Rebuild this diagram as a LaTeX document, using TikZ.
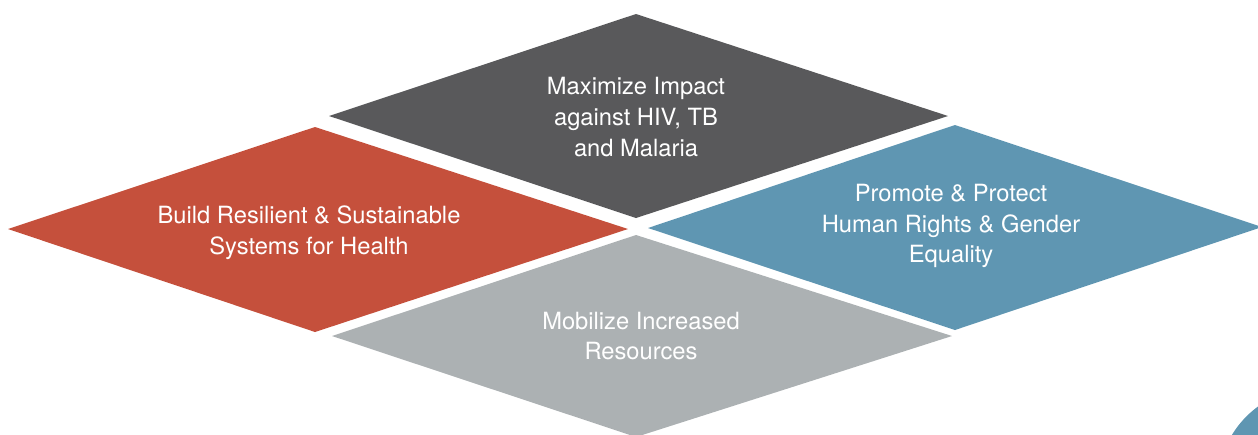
\documentclass[tikz,border=0pt]{standalone}
\usepackage{fontspec}
\setmainfont{TeX Gyre Heros}
\usetikzlibrary{positioning}
\definecolor{impactgray}{RGB}{89,89,91}
\definecolor{systemsred}{RGB}{197,80,60}
\definecolor{rightsblue}{RGB}{95,150,178}
\definecolor{resourcegray}{RGB}{172,177,179}
\tikzset{
	pillartext/.style={text=white, align=center, inner sep=0pt,
		font=\fontsize{13.5}{17.6}\selectfont}
}

\begin{document}
\begin{tikzpicture}[x=0.02cm,y=-0.02cm]
	\useasboundingbox (0,0) rectangle (1258,434);
	\clip (0,0) rectangle (1258,434);
%
	\fill[impactgray] (329,116) -- (636,14) -- (948,116) -- (636,218) -- cycle;
	\fill[systemsred] (8,229) -- (315,127) -- (628,229) -- (315,332) -- cycle;
	\fill[rightsblue] (648,228) -- (955,125) -- (1262,227) -- (955,330) -- cycle;
	\fill[resourcegray] (332,336) -- (636,235) -- (952,336) -- (636,437) -- cycle;
	\fill[rightsblue] (1315,485) circle (97);
%
	\node[pillartext] (impact) at (636,117) {Maximize Impact\\against HIV, TB\\and Malaria};
	\node[pillartext] (systems) at (309,233) {Build Resilient \& Sustainable\\Systems for Health};
	\node[pillartext] (rights) at (951,226) {Promote \& Protect\\Human Rights \& Gender\\Equality};
	\node[pillartext] (resources) at (641,336) {Mobilize Increased\\Resources};
\end{tikzpicture}
\end{document}
